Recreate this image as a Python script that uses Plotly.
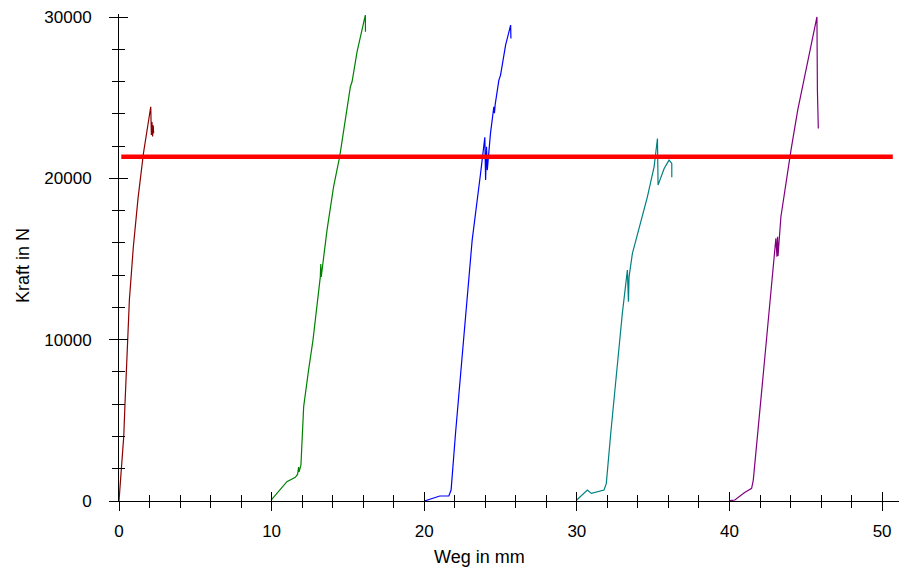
import plotly.graph_objects as go

# Probe 1 (dark red)
p1_x = [0.0, 0.31, 0.39, 0.68, 0.94, 1.25, 1.6, 2.08, 2.12, 2.16, 2.2, 2.24, 2.27]
p1_y = [0, 3990, 5950, 12460, 15770, 18800, 21550, 24450, 22700, 23500, 22600, 23300, 22800]

# Probe 2 (green)
p2_x = [9.97, 10.56, 11.0, 11.55, 11.7, 11.77, 11.8, 11.92, 12.1, 12.42, 12.71, 13.19, 13.22, 13.25, 13.63, 14.06, 14.46, 15.16, 15.27, 15.6, 16.14, 16.15]
p2_y = [60, 680, 1200, 1470, 1650, 2100, 1800, 2230, 5850, 8120, 9980, 13900, 14700, 13900, 16800, 19490, 21350, 25690, 26000, 27860, 30130, 29100]

# Probe 3 (blue)
p3_x = [20.01, 20.4, 21.02, 21.61, 21.76, 22.05, 22.6, 23.14, 23.69, 23.97, 24.02, 24.08, 24.13, 24.19, 24.34, 24.56, 24.6, 24.65, 24.89, 25.0, 25.33, 25.66, 25.68]
p3_y = [0, 120, 310, 310, 680, 4200, 10190, 16180, 20310, 22550, 19900, 21960, 20520, 21350, 22800, 24450, 24050, 24600, 26100, 26410, 28270, 29510, 28680]

# Probe 4 (teal)
p4_x = [29.99, 30.69, 30.95, 31.78, 31.93, 32.22, 32.98, 33.31, 33.38, 33.42, 33.64, 34.08, 34.62, 35.06, 35.28, 35.32, 35.72, 36.04, 36.22, 36.22]
p4_y = [60, 680, 470, 680, 1090, 4200, 11640, 14320, 12360, 13900, 15360, 17010, 18860, 20720, 22480, 19590, 20620, 21140, 20930, 20070]

# Probe 5 (purple)
p5_x = [40.03, 40.35, 40.97, 41.45, 41.56, 42.17, 42.28, 43.04, 43.11, 43.15, 43.18, 43.37, 43.7, 44.03, 44.47, 45.34, 45.73, 45.76, 45.8, 45.82]
p5_y = [20, 60, 510, 790, 1300, 7710, 8540, 16290, 15150, 16390, 15200, 17630, 19800, 21760, 24240, 28170, 30020, 25480, 23930, 23100]

# Limit line
limit_x = [0.15, 50.7]
limit_y = [21350, 21350]

series = [
    (p1_x, p1_y, "#8B0000"),
    (p2_x, p2_y, "#008000"),
    (p3_x, p3_y, "#0000FF"),
    (p4_x, p4_y, "#008080"),
    (p5_x, p5_y, "#800080"),
]

x_range = [0, 51.5]
y_range = [0, 30200]
x_ticks = [0, 10, 20, 30, 40, 50]
y_ticks = [0, 10000, 20000, 30000]
y_ticklabels = ["0", "10000", "20000", "30000"]
x_ticklabels = ["0", "10", "20", "30", "40", "50"]

fig = go.Figure()
for xs, ys, c in series:
    fig.add_trace(go.Scatter(x=xs, y=ys, mode="lines",
                             line=dict(color=c, width=1.2), showlegend=False,
                             hoverinfo="skip"))
fig.add_trace(go.Scatter(x=limit_x, y=limit_y, mode="lines",
                         line=dict(color="#FF0000", width=4.5), showlegend=False,
                         hoverinfo="skip"))
# invisible trace to instantiate the overlay axes (inside tick halves)
fig.add_trace(go.Scatter(x=[x_range[0]], y=[y_range[0]], xaxis="x2", yaxis="y2",
                         mode="markers", marker=dict(opacity=0), showlegend=False,
                         hoverinfo="skip"))

font = dict(family="Liberation Sans, Arial, sans-serif", size=17, color="#000000")
title_font = dict(family="Liberation Sans, Arial, sans-serif", size=18, color="#000000")

# page body has an 8px default margin -> figure sized/positioned to compensate
fig.update_layout(
    width=899, height=562,
    margin=dict(l=111, r=2, t=6, b=69, autoexpand=False),
    paper_bgcolor="white", plot_bgcolor="white",
    font=font,
    xaxis=dict(range=x_range, tickvals=x_ticks, ticktext=x_ticklabels,
               ticks="outside", ticklen=9, automargin=False,
               tickcolor="black", tickwidth=1, showline=True, linecolor="black",
               linewidth=1, showgrid=False, zeroline=False, ticklabelstandoff=6,
               minor=dict(dtick=2, ticks="outside", ticklen=6, tickcolor="black",
                          tickwidth=1, showgrid=False),
               tickfont=font),
    yaxis=dict(range=y_range, tickvals=y_ticks, ticktext=y_ticklabels,
               ticks="outside", ticklen=9, automargin=False,
               tickcolor="black", tickwidth=1, showline=True, linecolor="black",
               linewidth=1, showgrid=False, zeroline=False, ticklabelstandoff=14,
               minor=dict(dtick=2000, ticks="outside", ticklen=6, tickcolor="black",
                          tickwidth=1, showgrid=False),
               tickfont=font),
    xaxis2=dict(range=x_range, overlaying="x", anchor="y2", tickvals=x_ticks,
                ticks="inside", ticklen=9, tickcolor="black", tickwidth=1,
                showticklabels=False, showline=False, showgrid=False, zeroline=False,
                side="bottom", automargin=False,
                minor=dict(dtick=2, ticks="inside", ticklen=6, tickcolor="black",
                           tickwidth=1, showgrid=False)),
    yaxis2=dict(range=y_range, overlaying="y", anchor="x2", tickvals=y_ticks,
                ticks="inside", ticklen=9, tickcolor="black", tickwidth=1,
                showticklabels=False, showline=False, showgrid=False, zeroline=False,
                side="left", automargin=False,
                minor=dict(dtick=2000, ticks="inside", ticklen=6, tickcolor="black",
                           tickwidth=1, showgrid=False)),
    annotations=[
        dict(text="Weg in mm", xref="paper", yref="paper", x=(479 - 119) / 786,
             y=-(557 - 501) / 487, showarrow=False, font=title_font,
             xanchor="center", yanchor="middle"),
        dict(text="Kraft in N", xref="paper", yref="paper", x=-(119 - 23) / 786,
             y=(501 - 266) / 487, showarrow=False, font=title_font, textangle=-90,
             xanchor="center", yanchor="middle"),
    ],
)

fig.write_html("out.html")
